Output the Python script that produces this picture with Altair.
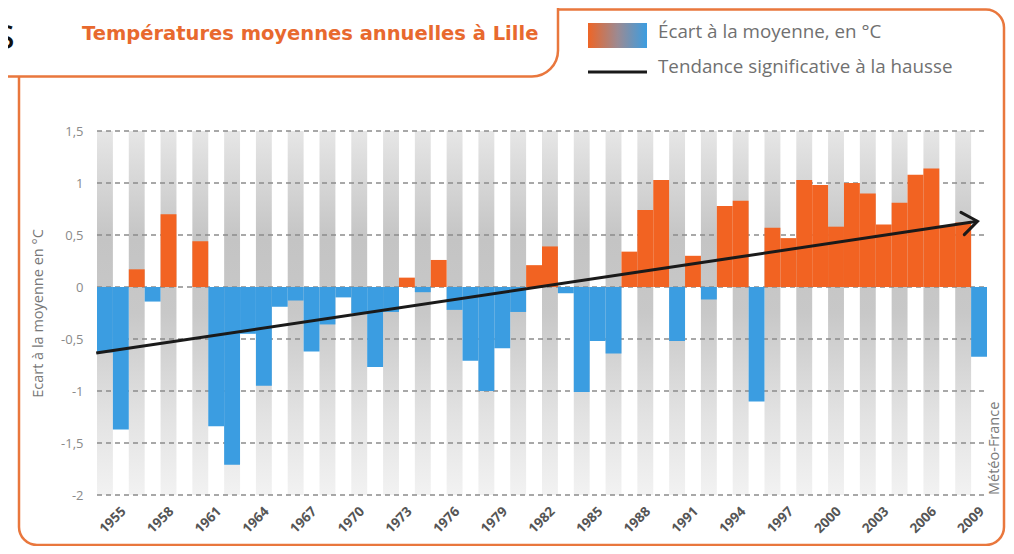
import altair as alt
import pandas as pd

# ---------------- data ----------------
years = [1955, 1956, 1957, 1958, 1959, 1960, 1961, 1962, 1963, 1964,
         1965, 1966, 1967, 1968, 1969, 1970, 1971, 1972, 1973, 1974,
         1975, 1976, 1977, 1978, 1979, 1980, 1981, 1982, 1983, 1984,
         1985, 1986, 1987, 1988, 1989, 1990, 1991, 1992, 1993, 1994,
         1995, 1996, 1997, 1998, 1999, 2000, 2001, 2002, 2003, 2004,
         2005, 2006, 2007, 2008, 2009, 2010]
anomalies = [-0.63, -1.37, 0.17, -0.14, 0.70, 0.00, 0.44, -1.34, -1.71, -0.45,
             -0.95, -0.19, -0.13, -0.62, -0.36, -0.10, -0.25, -0.77, -0.24, 0.09,
             -0.05, 0.26, -0.22, -0.71, -1.00, -0.59, -0.24, 0.21, 0.39, -0.06,
             -1.01, -0.52, -0.64, 0.34, 0.74, 1.03, -0.52, 0.30, -0.12, 0.78,
             0.83, -1.10, 0.57, 0.47, 1.03, 0.98, 0.58, 1.00, 0.90, 0.60,
             0.81, 1.08, 1.14, 0.59, 0.62, -0.67]
tick_years = [1955, 1958, 1961, 1964, 1967, 1970, 1973, 1976, 1979, 1982,
              1985, 1988, 1991, 1994, 1997, 2000, 2003, 2006, 2009]
y_ticks = [-2, -1.5, -1, -0.5, 0, 0.5, 1, 1.5]
trend_years = [1954.45, 2009.9]
trend_values = [-0.635, 0.632]

title_text = "Températures moyennes annuelles à Lille"
legend_bar_text = "Écart à la moyenne, en °C"
legend_line_text = "Tendance significative à la hausse"
y_title = "Ecart à la moyenne en °C"
source_text = "Météo-France"

# ---------------- styles ----------------
ORANGE = "#F26322"
BLUE = "#3B9DE1"
FRAME = "#E9773D"
FONT = "Open Sans"
W, H = 890, 364

df = pd.DataFrame({"year": years, "anom": anomalies})
df["sign"] = ["pos" if v >= 0 else "neg" for v in anomalies]
stripes = pd.DataFrame({"year": [y for y in years if y % 2 == 1]})
stripes["top"] = 1.5
stripes["bottom"] = -2.0
grid_df = pd.DataFrame({"v": y_ticks})
trend_df = pd.DataFrame({"yr": trend_years, "val": trend_values})
arrow_df = trend_df.tail(1)
one = pd.DataFrame({"d": [0]})

yscale = alt.Scale(domain=[-2, 1.5], nice=False, zero=False)
yaxis = alt.Axis(values=y_ticks, labelExpr="replace(toString(datum.value), '.', ',')",
                 domain=False, ticks=False, grid=False, labelColor="#8a8a8a",
                 labelFontSize=13, labelFont=FONT, labelPadding=14,
                 titleFont=FONT, titleFontSize=14.5, titleFontWeight="normal",
                 titleColor="#777777", titlePadding=15)
xscale = alt.Scale(domain=years, paddingInner=0, paddingOuter=0)
xaxis = alt.Axis(values=tick_years, labelAngle=-45, labelFontWeight="bold",
                 labelColor="#555555", labelFontSize=13.5, labelFont=FONT,
                 domain=False, ticks=False, grid=False, labelPadding=9,
                 labelOffset=14)
X = alt.X("year:O", scale=xscale, axis=xaxis, title=None)
X_noaxis = alt.X("year:O", scale=xscale, axis=None, title=None)

stripe_grad = alt.Gradient(
    gradient="linear",
    stops=[alt.GradientStop(offset=0, color="#e6e6e6"),
           alt.GradientStop(offset=0.3, color="#c4c4c4"),
           alt.GradientStop(offset=0.5, color="#c8c8c8"),
           alt.GradientStop(offset=0.78, color="#e2e2e2"),
           alt.GradientStop(offset=1, color="#f2f2f2")],
    x1=0, x2=0, y1=0, y2=1)

stripe_layer = alt.Chart(stripes).mark_bar(fill=stripe_grad).encode(
    x=X_noaxis,
    y=alt.Y("top:Q", scale=yscale, axis=yaxis, title=y_title),
    y2="bottom:Q",
)

grid_layer = alt.Chart(grid_df).mark_rule(
    color="#8c8c8c", strokeWidth=1.3, strokeDash=[5, 4]
).encode(
    x=alt.value(0), x2=alt.value(W),
    y=alt.Y("v:Q", scale=yscale, axis=yaxis, title=y_title),
)

bar_layer = alt.Chart(df).mark_bar().encode(
    x=X,
    y=alt.Y("anom:Q", scale=yscale, axis=yaxis, title=y_title),
    y2=alt.datum(0),
    color=alt.Color("sign:N", scale=alt.Scale(domain=["pos", "neg"], range=[ORANGE, BLUE]),
                    legend=None),
)

trend_x = alt.X("yr:Q", scale=alt.Scale(domain=[1954.5, 2010.5], nice=False, zero=False),
                axis=None)
trend_layer = alt.Chart(trend_df).mark_line(color="#1a1a1a", strokeWidth=3).encode(
    x=trend_x,
    y=alt.Y("val:Q", scale=yscale, axis=yaxis, title=y_title),
)
arrow_layer = alt.Chart(arrow_df).mark_point(
    shape="M-1,-0.75L0,0L-1,0.75", filled=False, size=900, strokeWidth=3,
    color="#1a1a1a", opacity=1, angle=351.5, strokeCap="round", strokeJoin="miter"
).encode(
    x=trend_x,
    y=alt.Y("val:Q", scale=yscale, axis=yaxis, title=y_title),
)

# ---------------- decorations (frame, title, legend) ----------------
frame = alt.Chart(one).mark_rect(
    fillOpacity=0, stroke=FRAME, strokeWidth=2.5, cornerRadius=18
).encode(x=alt.value(-78), x2=alt.value(907), y=alt.value(-121.5), y2=alt.value(414))

tab = alt.Chart(one).mark_rect(
    fill="white", stroke=FRAME, strokeWidth=2.5, cornerRadiusBottomRight=26
).encode(x=alt.value(-120), x2=alt.value(461), y=alt.value(-150), y2=alt.value(-54.5))

title = alt.Chart(one).mark_text(
    text=title_text, font="DejaVu Sans", fontSize=19.5, fontWeight="bold", color="#E8692E",
    align="left", baseline="alphabetic"
).encode(x=alt.value(-15), y=alt.value(-91))

swatch_grad = alt.Gradient(
    gradient="linear",
    stops=[alt.GradientStop(offset=0, color="#EE6526"),
           alt.GradientStop(offset=0.5, color="#9C8A92"),
           alt.GradientStop(offset=1, color="#3B9DE1")],
    x1=0, x2=1, y1=0, y2=0)
swatch = alt.Chart(one).mark_rect(fill=swatch_grad).encode(
    x=alt.value(491), x2=alt.value(550), y=alt.value(-108), y2=alt.value(-83))
leg_line = alt.Chart(one).mark_rule(color="#1a1a1a", strokeWidth=3).encode(
    x=alt.value(491), x2=alt.value(550), y=alt.value(-59))
leg_t1 = alt.Chart(one).mark_text(
    text=legend_bar_text, font=FONT, fontSize=18.8, color="#707070",
    align="left", baseline="alphabetic").encode(x=alt.value(561), y=alt.value(-93))
leg_t2 = alt.Chart(one).mark_text(
    text=legend_line_text, font=FONT, fontSize=18.8, color="#707070",
    align="left", baseline="alphabetic").encode(x=alt.value(561), y=alt.value(-58))
source = alt.Chart(one).mark_text(
    text=source_text, font=FONT, fontSize=14.5, color="#7a7a7a",
    align="left", baseline="middle", angle=270).encode(x=alt.value(898), y=alt.value(364))
s_glyph = alt.Chart(one).mark_text(
    text="s", font=FONT, fontSize=44, color="#111111",
    align="right", baseline="middle").encode(x=alt.value(-82), y=alt.value(-95))

chart = alt.layer(
    stripe_layer, grid_layer, bar_layer, trend_layer, arrow_layer,
    frame, tab, title, swatch, leg_line, leg_t1, leg_t2, source, s_glyph
).resolve_scale(x="independent").properties(
    width=W, height=H,
    padding={"left": 89, "top": 123, "right": 19, "bottom": 51},
    autosize=alt.AutoSizeParams(type="none"),
).configure_view(stroke=None)

chart.save("out.html", embed_options={"renderer": "svg", "actions": False})
